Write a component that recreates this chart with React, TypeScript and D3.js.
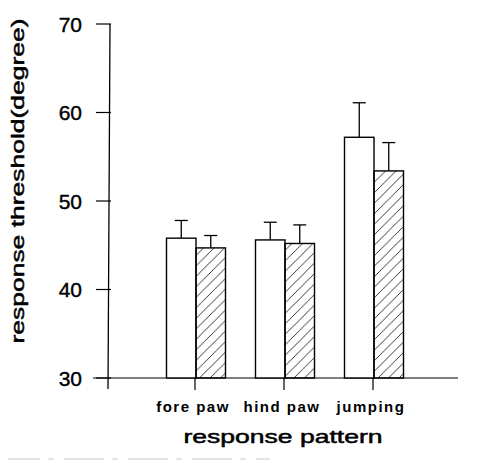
import React, { useEffect, useRef } from "react";
import * as d3 from "d3";

const categories = ["fore paw", "hind paw", "jumping"];
const control = [45.8, 45.6, 57.2];
const controlErr = [2.0, 2.0, 3.9];
const treated = [44.7, 45.2, 53.4];
const treatedErr = [1.4, 2.1, 3.2];
const yTicks = [30, 40, 50, 60, 70];

const App = () => {
  const ref = useRef<SVGSVGElement | null>(null);

  useEffect(() => {
    const width = 491;
    const height = 464;
    const font = "'Liberation Sans', Arial, sans-serif";

    const svg = d3.select(ref.current);
    svg.selectAll("*").remove();
    svg.attr("width", width).attr("height", height);

    svg.append("rect").attr("width", width).attr("height", height).attr("fill", "#fff");

    // hatch pattern
    const defs = svg.append("defs");
    const pat = defs
      .append("pattern")
      .attr("id", "hatch")
      .attr("patternUnits", "userSpaceOnUse")
      .attr("width", 10.5)
      .attr("height", 10.5);
    pat
      .append("path")
      .attr("d", "M0,10.5 L10.5,0 M-2,2 L2,-2 M8.5,12.5 L12.5,8.5")
      .attr("stroke", "#222")
      .attr("stroke-width", 0.9);

    const y = d3.scaleLinear().domain([30, 70]).range([378, 24]);
    const x = d3.scaleLinear().domain([0, 4]).range([106, 462]);
    const barW = 29.5;

    // scan edge artefacts
    svg.append("line").attr("x1", 0).attr("x2", width).attr("y1", 4).attr("y2", 4)
      .attr("stroke", "#bbb").attr("stroke-dasharray", "30,6,4,8").attr("stroke-width", 0.8);
    svg.append("line").attr("x1", 0).attr("x2", 270).attr("y1", 459).attr("y2", 459)
      .attr("stroke", "#bbb").attr("stroke-dasharray", "40,8,6,10").attr("stroke-width", 0.8);
    svg.append("line").attr("x1", 2).attr("x2", 2).attr("y1", 20).attr("y2", 400)
      .attr("stroke", "#ccc").attr("stroke-dasharray", "3,3").attr("stroke-width", 0.8);

    // y axis
    svg.append("line").attr("x1", 110).attr("x2", 108).attr("y1", y(70)).attr("y2", 389)
      .attr("stroke", "#000").attr("stroke-width", 1.3);
    yTicks.forEach((t) => {
      svg.append("line").attr("x1", 96).attr("x2", 111).attr("y1", y(t)).attr("y2", y(t))
        .attr("stroke", "#000").attr("stroke-width", 1.2);
      svg.append("text")
        .attr("x", 82).attr("y", y(t)).attr("dy", "0.36em")
        .attr("text-anchor", "end")
        .attr("font-family", font).attr("font-size", 21)
        .attr("fill", "#000").attr("stroke", "#000").attr("stroke-width", 0.4)
        .text(t);
    });

    // x axis
    svg.append("line").attr("x1", 93).attr("x2", 458).attr("y1", y(30)).attr("y2", y(30))
      .attr("stroke", "#000").attr("stroke-width", 1.2);
    [1, 2, 3].forEach((i) => {
      svg.append("line").attr("x1", x(i)).attr("x2", x(i)).attr("y1", y(30)).attr("y2", 390)
        .attr("stroke", "#000").attr("stroke-width", 1.2);
    });

    // bars
    categories.forEach((c, i) => {
      const cx = x(i + 1) + 1;
      const groups = [
        { v: control[i], e: controlErr[i], x0: cx - barW, fill: "#fff" },
        { v: treated[i], e: treatedErr[i], x0: cx, fill: "url(#hatch)" },
      ];
      groups.forEach((g) => {
        const mid = g.x0 + barW / 2;
        svg.append("line").attr("x1", mid).attr("x2", mid).attr("y1", y(g.v)).attr("y2", y(g.v + g.e))
          .attr("stroke", "#000").attr("stroke-width", 1.3);
        svg.append("line").attr("x1", mid - 6.5).attr("x2", mid + 6.5).attr("y1", y(g.v + g.e)).attr("y2", y(g.v + g.e))
          .attr("stroke", "#000").attr("stroke-width", 1.3);
        svg.append("rect")
          .attr("x", g.x0).attr("y", y(g.v))
          .attr("width", barW).attr("height", y(30) - y(g.v))
          .attr("fill", g.fill)
          .attr("stroke", "#000").attr("stroke-width", 1.4);
      });

      svg.append("text")
        .attr("x", x(i + 1) - 2).attr("y", 412)
        .attr("text-anchor", "middle")
        .attr("font-family", font).attr("font-size", 15).attr("font-weight", "bold")
        .attr("letter-spacing", 1.5)
        .attr("fill", "#000")
        .text(c);
    });

    // titles
    svg.append("text")
      .attr("x", 283).attr("y", 443)
      .attr("text-anchor", "middle")
      .attr("font-family", font).attr("font-size", 19)
      .attr("textLength", 199).attr("lengthAdjust", "spacingAndGlyphs")
      .attr("fill", "#000").attr("stroke", "#000").attr("stroke-width", 0.5)
      .text("response pattern");

    svg.append("text")
      .attr("transform", "translate(24,181) rotate(-90)")
      .attr("text-anchor", "middle")
      .attr("font-family", font).attr("font-size", 19)
      .attr("textLength", 325).attr("lengthAdjust", "spacingAndGlyphs")
      .attr("fill", "#000").attr("stroke", "#000").attr("stroke-width", 0.5)
      .text("response threshold(degree)");
  }, []);

  return (
    <div style={{ margin: -8 }}>
      <svg ref={ref}></svg>
    </div>
  );
};

export default App;
